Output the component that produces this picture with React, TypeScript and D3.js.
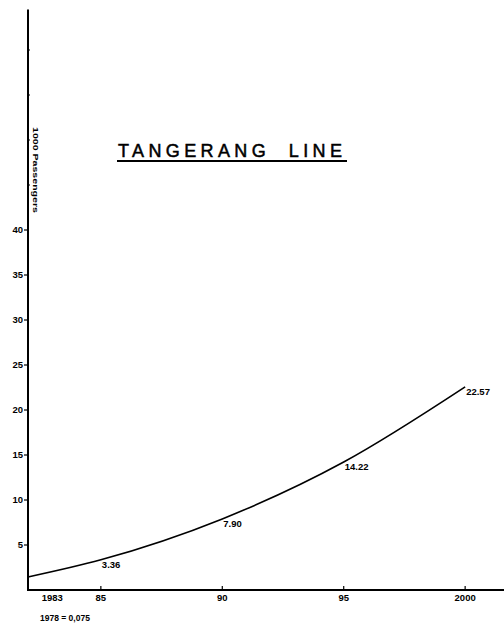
import React from "react";
import * as d3 from "d3";

const years = [1982, 1985, 1990, 1995, 2000];
const passengers = [1.45, 3.36, 7.9, 14.22, 22.57];
const pointLabels = ["", "3.36", "7.90", "14.22", "22.57"];
const xTickYears = [1983, 1985, 1990, 1995, 2000];
const xTickLabels = ["1983", "85", "90", "95", "2000"];
const yTicks = [5, 10, 15, 20, 25, 30, 35, 40];
const yMinorTicks = [45, 50, 55, 60];
const title = "TANGERANG  LINE";
const yLabel = "1000 Passengers";
const footnote = "1978 = 0,075";

const W = 504;
const H = 625;
const FONT = "'Liberation Sans', Arial, sans-serif";

export default function App() {
  const x = d3.scaleLinear().domain([1982, 2001.6]).range([28, 504]);
  const y = d3.scaleLinear().domain([0, 64.5]).range([590, 9.5]);
  const line = d3
    .line<number>()
    .x((_, i) => x(years[i]))
    .y((d) => y(d))
    .curve(d3.curveMonotoneX);
  const x0 = x(1982);
  const y0 = y(0);
  return (
    <svg
      width={W}
      height={H}
      style={{ position: "absolute", left: 0, top: 0, background: "#fff" }}
    >
      <rect width={W} height={H} fill="#fff" />
      {/* axes */}
      <line x1={x0} x2={x0} y1={y(64.5)} y2={y0 + 1} stroke="#000" strokeWidth={2} />
      <line x1={x0} x2={W} y1={y0} y2={y0} stroke="#000" strokeWidth={2} />
      {/* y ticks */}
      {yTicks.map((t) => (
        <g key={t}>
          <line x1={x0 - 4} x2={x0} y1={y(t)} y2={y(t)} stroke="#000" strokeWidth={1.2} />
          <text
            x={x0 - 5}
            y={y(t)}
            dy="0.35em"
            textAnchor="end"
            fontFamily={FONT}
            fontWeight="bold"
            fontSize={9.5}
          >
            {t}
          </text>
        </g>
      ))}
      {yMinorTicks.map((t) => (
        <line key={t} x1={x0} x2={x0 + 2} y1={y(t)} y2={y(t)} stroke="#000" strokeWidth={1} />
      ))}
      {/* x ticks */}
      {xTickYears.map((t, i) => (
        <g key={t}>
          {i > 0 && (
            <line x1={x(t)} x2={x(t)} y1={y0} y2={y0 - 4} stroke="#000" strokeWidth={1.2} />
          )}
          <text
            x={x(t)}
            y={y0 + 11}
            textAnchor="middle"
            fontFamily={FONT}
            fontWeight="bold"
            fontSize={9.5}
          >
            {xTickLabels[i]}
          </text>
        </g>
      ))}
      <text x={40} y={621} fontFamily={FONT} fontWeight="bold" fontSize={8.5}>
        {footnote}
      </text>
      {/* y label */}
      <text
        transform={`translate(33,127) rotate(90)`}
        fontFamily={FONT}
        fontWeight="bold"
        fontSize={7.5}
        textLength={86}
        lengthAdjust="spacingAndGlyphs"
      >
        {yLabel}
      </text>
      {/* title */}
      <text
        x={118}
        y={157}
        fontFamily={FONT}
        fontSize={18}
        textLength={224}
        lengthAdjust="spacing"
        stroke="#000"
        strokeWidth={0.5}
        style={{ whiteSpace: "pre" }}
      >
        {title}
      </text>
      <line x1={117} x2={347} y1={161} y2={161} stroke="#000" strokeWidth={1.8} />
      {/* series line */}
      <path d={line(passengers) || ""} fill="none" stroke="#000" strokeWidth={1.6} />
      {passengers.map((v, i) =>
        pointLabels[i] ? (
          <text
            key={i}
            x={x(years[i]) + 1}
            y={y(v) + 8}
            fontFamily={FONT}
            fontWeight="bold"
            fontSize={9.5}
          >
            {pointLabels[i]}
          </text>
        ) : null
      )}
    </svg>
  );
}
